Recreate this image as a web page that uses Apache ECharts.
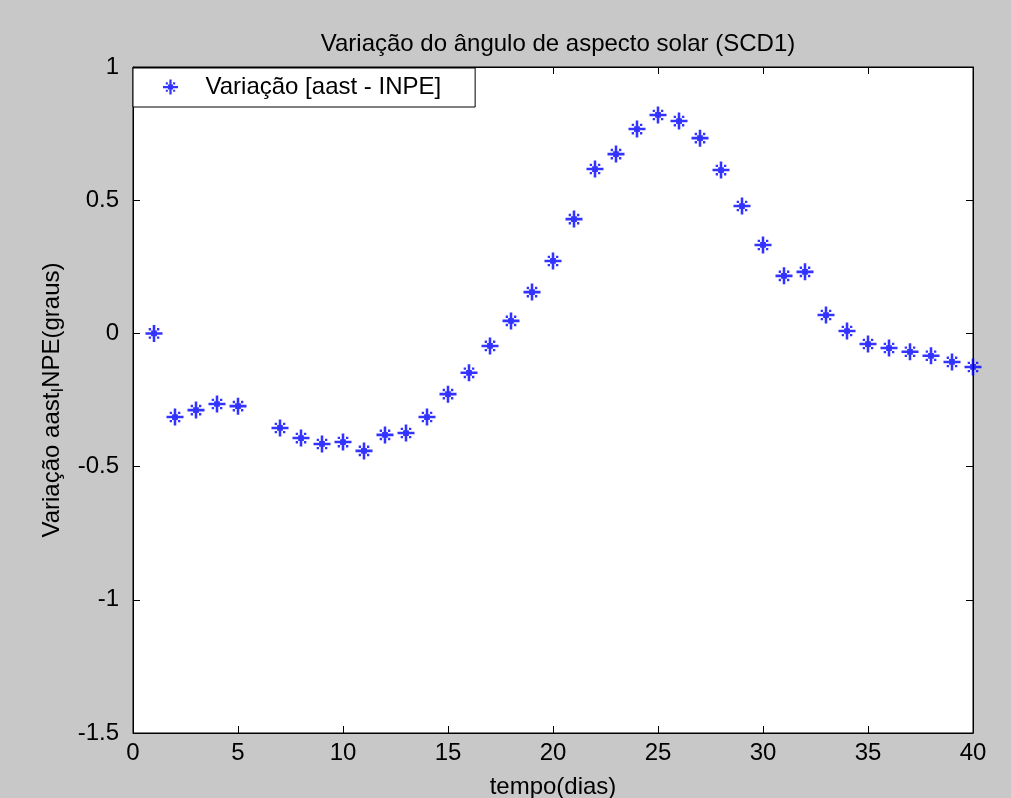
<!DOCTYPE html>
<html>
<head>
<meta charset="utf-8">
<script src="https://cdn.jsdelivr.net/npm/echarts@6/dist/echarts.min.js"></script>
<style>
  html, body { margin: 0; padding: 0; background: #c8c8c8; }
  #chart { width: 1011px; height: 798px; }
</style>
</head>
<body>
<div id="chart"></div>
<script>
// dias (o dia 6 nao tem medida)
var dias = [1, 2, 3, 4, 5, 7, 8, 9, 10, 11, 12, 13, 14, 15, 16, 17, 18, 19, 20,
  21, 22, 23, 24, 25, 26, 27, 28, 29, 30, 31, 32, 33, 34, 35, 36, 37, 38, 39, 40]
// variacao aast - INPE (graus)
var variacao = [0, -0.314, -0.288, -0.265, -0.273, -0.355, -0.393, -0.415, -0.408, -0.441,
  -0.381, -0.374, -0.314, -0.228, -0.148, -0.047, 0.047, 0.155, 0.272, 0.429,
  0.617, 0.673, 0.767, 0.820, 0.797, 0.733, 0.613, 0.478, 0.332, 0.216,
  0.231, 0.069, 0.009, -0.040, -0.055, -0.069, -0.084, -0.107, -0.126]

var serieNome = 'Variação [aast - INPE]'
var titulo = 'Variação do ângulo de aspecto solar (SCD1)'

// estrela estilo matlab '*'
var estrela = 'path://M6.8 0h2.4v16h-2.4z M0 6.8h16v2.4h-16z M5.3 5.3h5.4v5.4h-5.4z' +
  ' M3 3h2.2v2.2h-2.2z M10.8 3h2.2v2.2h-2.2z M3 10.8h2.2v2.2h-2.2z M10.8 10.8h2.2v2.2h-2.2z'

var fonte = 'Liberation Sans, Arial, sans-serif'
var tam = 24

var pontos = dias.map(function (d, i) { return [d, variacao[i]] })

var chart = echarts.init(document.getElementById('chart'))

function eixoX (pos, labels) {
  return {
    type: 'value', position: pos, min: 0, max: 40, interval: 5,
    name: labels ? 'tempo(dias)' : '',
    nameLocation: 'middle', nameGap: 42,
    nameTextStyle: { color: '#000', fontSize: tam, fontFamily: fonte },
    axisLine: { show: true, onZero: false, lineStyle: { color: '#000', width: 1 } },
    axisTick: { show: true, inside: true, length: 7, lineStyle: { color: '#000' } },
    axisLabel: { show: labels, color: '#000', fontSize: tam, fontFamily: fonte, margin: 8 },
    splitLine: { show: false }
  }
}

function eixoY (pos, labels) {
  return {
    type: 'value', position: pos, min: -1.5, max: 1, interval: 0.5,
    name: labels ? 'Variação aast{sub|I}NPE(graus)' : '',
    nameLocation: 'middle', nameGap: 47,
    nameTextStyle: {
      color: '#000', fontSize: tam, fontFamily: fonte,
      rich: { sub: { fontSize: 17, color: '#000', fontFamily: fonte, padding: [12, 0, 0, 0] } }
    },
    axisLine: { show: true, onZero: false, lineStyle: { color: '#000', width: 1 } },
    axisTick: { show: true, inside: true, length: 7, lineStyle: { color: '#000' } },
    axisLabel: { show: labels, color: '#000', fontSize: tam, fontFamily: fonte, margin: 14 },
    splitLine: { show: false }
  }
}

var option = {
  backgroundColor: '#c8c8c8',
  animation: false,
  title: {
    text: titulo,
    left: 553, top: 27, textAlign: 'center',
    textStyle: { color: '#000', fontSize: tam, fontWeight: 'normal', fontFamily: fonte }
  },
  legend: {
    left: 133, top: 68,
    data: [serieNome],
    icon: estrela,
    itemWidth: 60, itemHeight: 15,
    padding: [7, 34, 8, 30],
    backgroundColor: '#fff',
    borderColor: '#000', borderWidth: 1,
    textStyle: { color: '#000', fontSize: tam, fontFamily: fonte }
  },
  grid: {
    left: 133, right: 38, top: 67, bottom: 65,
    outerBoundsMode: 'none',
    show: true, backgroundColor: '#fff', borderColor: '#000', borderWidth: 1
  },
  xAxis: [eixoX('bottom', true), eixoX('top', false)],
  yAxis: [eixoY('left', true), eixoY('right', false)],
  series: [{
    name: serieNome,
    type: 'scatter',
    data: pontos,
    symbol: estrela,
    symbolSize: 17,
    itemStyle: { color: '#0000ff' }
  }]
}

chart.setOption(option)
</script>
</body>
</html>
